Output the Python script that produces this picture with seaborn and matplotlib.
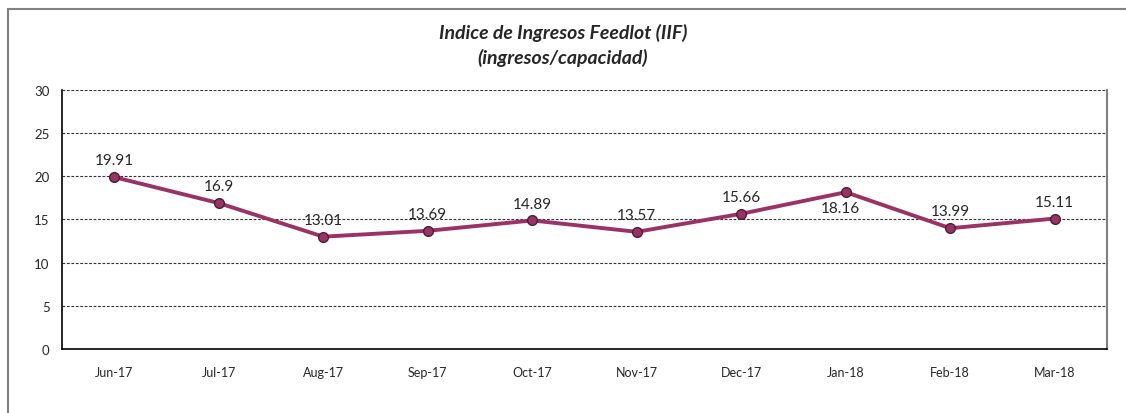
import numpy as np
import pandas as pd
import seaborn as sns
from matplotlib import pyplot as plt
from matplotlib.patches import Rectangle

# datos
meses = ['Jun-17', 'Jul-17', 'Aug-17', 'Sep-17', 'Oct-17', 'Nov-17',
         'Dec-17', 'Jan-18', 'Feb-18', 'Mar-18']
iif = [19.91, 16.9, 13.01, 13.69, 14.89, 13.57, 15.66, 18.16, 13.99, 15.11]
etiquetas = ['19.91', '16.9', '13.01', '13.69', '14.89', '13.57',
             '15.66', '18.16', '13.99', '15.11']

sns.set_style('white')
plt.rcParams['font.family'] = ['Lato', 'DejaVu Sans']

df = pd.DataFrame({'pos': np.arange(len(meses)), 'iif': iif})

fig = plt.figure(figsize=(11.26, 4.14), dpi=100)
ax = fig.add_axes([0.0551, 0.1546, 0.928, 0.6256])

# marco exterior
fig.patches.append(Rectangle((8 / 1126, -0.1), 1.2, 1 - 10 / 414 + 0.1,
                             transform=fig.transFigure, fill=False,
                             edgecolor='#808080', linewidth=1.5))

color = '#993366'
sns.lineplot(data=df, x='pos', y='iif', ax=ax, color=color, linewidth=2.8,
             marker='o', markersize=7, markerfacecolor=color,
             markeredgecolor='#4a1f33', markeredgewidth=1)

# etiquetas de datos (la de Jan-18 va debajo)
for i, (v, t) in enumerate(zip(iif, etiquetas)):
    if meses[i] == 'Jan-18':
        ax.annotate(t, (i, v), xytext=(-4, -6), textcoords='offset points',
                    ha='center', va='top', fontsize=11)
    else:
        ax.annotate(t, (i, v), xytext=(0, 7), textcoords='offset points',
                    ha='center', va='bottom', fontsize=11)

ax.set_xlim(-0.5, len(meses) - 0.5)
ax.set_ylim(0, 30)
ax.set_yticks(range(0, 31, 5))
ax.set_xticks(df['pos'])
ax.set_xticklabels(meses, fontsize=9)
ax.set_xticks(np.arange(-0.5, len(meses), 1), minor=True)
ax.tick_params(axis='x', which='major', length=0, pad=12)
ax.tick_params(axis='x', which='minor', length=5, width=1, direction='out', color='black')
ax.tick_params(axis='y', length=5, width=1, direction='out', color='black', labelsize=9.5, pad=4)
ax.set_xlabel('')
ax.set_ylabel('')

for y in range(5, 31, 5):
    ax.axhline(y, color='#333333', linestyle=(0, (2.5, 1.5)), linewidth=0.8, zorder=0)

ax.spines['top'].set_visible(False)
ax.spines['left'].set_color('black')
ax.spines['bottom'].set_color('black')
ax.spines['left'].set_linewidth(1.2)
ax.spines['bottom'].set_linewidth(1.2)
ax.spines['right'].set_color('#808080')
ax.spines['right'].set_linewidth(1.5)

fig.text(0.5, 1 - 33 / 414, 'Indice de Ingresos Feedlot (IIF)',
         ha='center', va='center', fontsize=14, fontweight='bold', fontstyle='italic')
fig.text(0.5, 1 - 58 / 414, '(ingresos/capacidad)',
         ha='center', va='center', fontsize=14, fontweight='bold', fontstyle='italic')

fig.savefig('out.png', dpi=100)
